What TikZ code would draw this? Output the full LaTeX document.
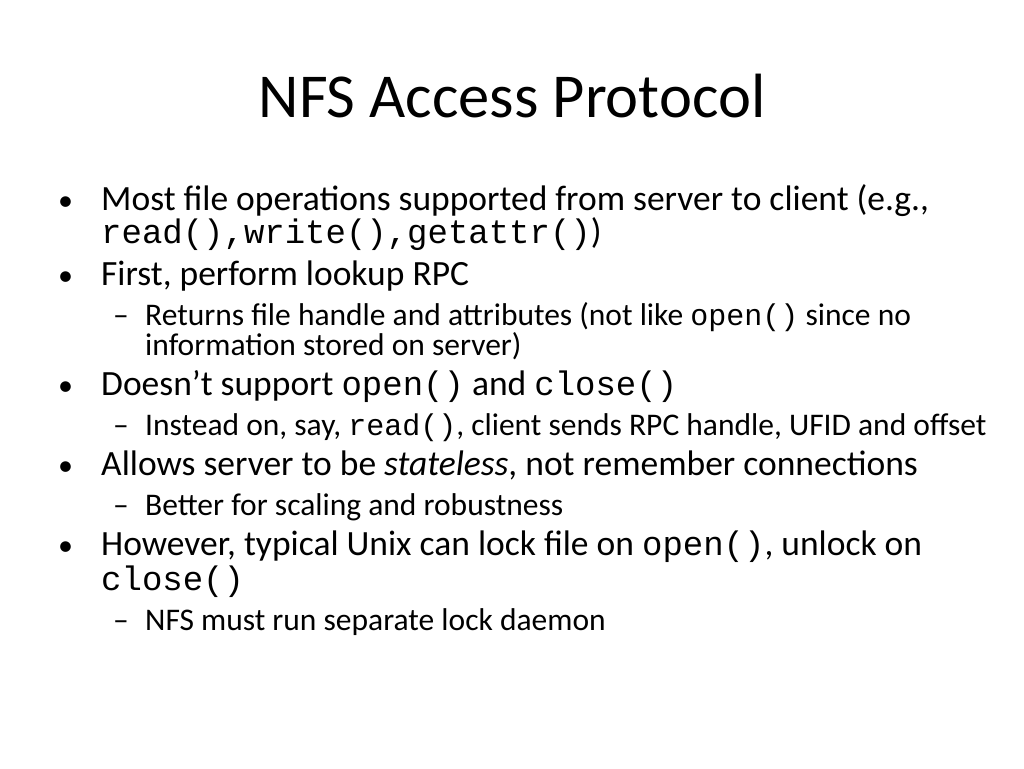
\documentclass[tikz,border=0pt]{standalone}
\usepackage{fontspec}
\setmainfont{Carlito}
\setmonofont{Liberation Mono}
\begin{document}
\begin{tikzpicture}[x=1pt,y=-1pt,
  l1/.style={anchor=base west,inner sep=0pt,font=\fontsize{35.5}{40}\selectfont},
  l2/.style={anchor=base west,inner sep=0pt,font=\fontsize{31.5}{36}\selectfont},
  bul/.style={anchor=base west,inner sep=0pt,font=\fontsize{30}{34}\selectfont},
  dsh/.style={anchor=base west,inner sep=0pt,font=\fontsize{31.5}{36}\selectfont}]
\newcommand{\mA}[1]{{\ttfamily\fontsize{34}{36}\selectfont #1}}
\newcommand{\mS}[1]{{\ttfamily\fontsize{21}{36}\selectfont #1}}
\newcommand{\mB}[1]{{\ttfamily\fontsize{30}{36}\selectfont #1}}
\useasboundingbox (0,0) rectangle (1024,768);
\node[anchor=base,inner sep=0pt,font=\fontsize{62.5}{70}\selectfont] (title) at (512,117) {NFS Access Protocol};
\node[bul] (b1) at (58,210) {•};
\node[l1] (t1) at (101,210) {Most file operations supported from server to client (e.g.,};
\node[l1] (t1b) at (101,243) {\mA{read(),write(),getattr()})};
\node[bul] (b2) at (58,285) {•};
\node[l1] (t2) at (101,285) {First, perform lookup RPC};
\node[dsh] (d1) at (113,325) {–};
\node[l2] (s1) at (145,325) {Returns file handle and attributes (not like \mB{open()} since no};
\node[l2] (s1b) at (145,355) {information stored on server)};
\node[bul] (b3) at (58,395) {•};
\node[l1] (t3) at (101,395) {Doesn’t support \mA{open()} and \mA{close()}};
\node[dsh] (d2) at (113,435) {–};
\node[l2] (s2) at (145,435) {Instead on, say, \mB{read()}, client sends RPC handle, UFID and offset};
\node[bul] (b4) at (58,475) {•};
\node[l1] (t4) at (101,475) {Allows server to be \textit{stateless}, not remember connections};
\node[dsh] (d3) at (113,515) {–};
\node[l2] (s3) at (145,515) {Better for scaling and robustness};
\node[bul] (b5) at (58,555) {•};
\node[l1] (t5) at (101,555) {However, typical Unix can lock file on \mA{open()}, unlock on};
\node[l1] (t5b) at (101,590) {\mA{close()}};
\node[dsh] (d4) at (113,630) {–};
\node[l2] (s4) at (145,630) {NFS must run separate lock daemon};
\end{tikzpicture}
\end{document}
